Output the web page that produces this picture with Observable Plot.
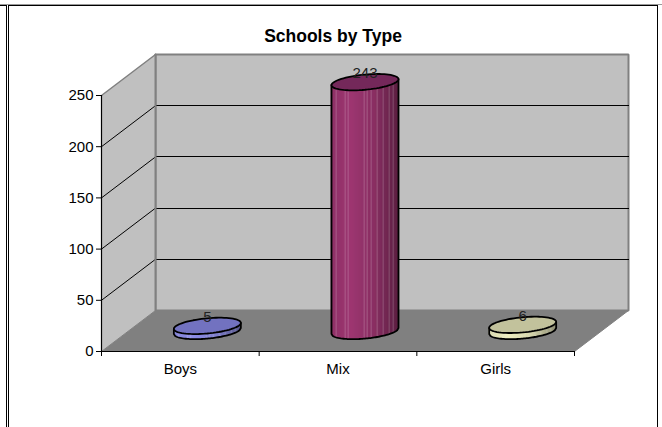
<!DOCTYPE html>
<html>
<head>
<meta charset="utf-8">
<script src="https://cdn.jsdelivr.net/npm/d3@7"></script>
<script src="https://cdn.jsdelivr.net/npm/@observablehq/plot@0.6"></script>
<style>
html,body{margin:0;padding:0;background:#fff;overflow:hidden}
#wrap{position:relative;width:662px;height:427px}
#wrap svg{position:absolute;left:0;top:0;display:block}
.f{position:absolute;background:#000}
</style>
</head>
<body>
<div id="wrap">
  <div class="f" style="left:0;top:4px;width:662px;height:1px;background:#999"></div>
  <div class="f" style="left:0;top:5px;width:6px;height:1px"></div>
  <div class="f" style="left:6px;top:5px;width:1px;height:422px"></div>
  <div class="f" style="left:8px;top:5px;width:650px;height:1px"></div>
  <div class="f" style="left:8px;top:5px;width:1px;height:422px"></div>
  <div class="f" style="left:657px;top:5px;width:1px;height:422px"></div>
</div>
<script>
const title = "Schools by Type";
const categories = ["Boys", "Mix", "Girls"];
const values = [5, 243, 6];
const sideColors = ["#8a8ae6", "#96346c", "#eeeebe"];
const topColors = ["#7272c0", "#74285a", "#c2c29c"];
const yTicks = [0, 50, 100, 150, 200, 250];
const xTicks = [0, 1, 2, 3];

// chart-space constants of the pseudo 3D box
const W = 662, H = 427, mL = 101, mR = 88, mT = 95, mB = 76;
const unitX = (W - mL - mR) / 3, unitY = (H - mT - mB) / 250;
const depthX = 54 / unitX, depthY = 41 / unitY;
const P = (x, y, d = 0) => ({x: x + d * depthX, y: y + d * depthY});

const poly = (pts, fill, stroke, strokeWidth = 1) =>
  Plot.line([...pts, pts[0]], {x: "x", y: "y", fill, stroke, strokeWidth, curve: "linear", strokeLinejoin: "miter"});
const seg = (a, b, stroke, strokeWidth = 1, shapeRendering = "auto") =>
  Plot.line([a, b], {x: "x", y: "y", stroke, strokeWidth, shapeRendering});

const GRAY = "#808080", WALL = "#c0c0c0";
const marks = [
  // back wall, side wall, floor
  poly([P(0, 0, 1), P(3, 0, 1), P(3, 250, 1), P(0, 250, 1)], WALL, GRAY, 2),
  poly([P(0, 0), P(0, 0, 1), P(0, 250, 1), P(0, 250)], WALL, "none"),
  poly([P(0, 0), P(3, 0), P(3, 0, 1), P(0, 0, 1)], GRAY, "none"),
  seg(P(0, 250), P(0, 250, 1), GRAY, 1.5),
  seg(P(3, 0), P(3, 0, 1), GRAY, 1),
  seg(P(0, 0), P(0, 0, 1), GRAY, 1)
];
// gridlines on both walls
for (const t of yTicks.slice(1, -1)) {
  marks.push(seg(P(0, t), P(0, t, 1), "#000"));
  marks.push(seg(P(0, t, 1), P(3, t, 1), "#000", 1, "crispEdges"));
}
marks.push(seg(P(0, 0, 1), P(0, 250, 1), GRAY, 2));

// cylinders
const a = 33.5 / unitX, b = 7.6 / unitY, shear = 3 / unitY;
const stripes = [-0.85, -0.56, -0.47, 0, 0.1, 0.22, 0.4, 0.57, 0.75, 0.87];
categories.forEach((name, i) => {
  const v = values[i];
  const c = P(i + 0.5, 0, 0.5);
  const ell = (cy, n = 72) => d3.range(n).map(k => {
    const t = 2 * Math.PI * k / n;
    return {x: c.x + a * Math.cos(t), y: cy + b * Math.sin(t) + shear * Math.cos(t)};
  });
  const slices = [];
  const N = 67;
  const shade = d3.scaleLinear().domain([-1, -0.4, 0.3, 1]).range([0.96, 1.05, 0.92, 0.62]);
  for (let k = 0; k < N; k++) {
    const u0 = -1 + 2 * k / N, u1 = -1 + 2 * (k + 1) / N, um = (u0 + u1) / 2;
    const base = d3.color(sideColors[i]);
    let s = shade(um);
    const striped = stripes.some(q => Math.abs(q - um) < 1 / N);
    const col = d3.rgb(Math.min(255, base.r * s), Math.min(255, base.g * s), Math.min(255, base.b * s));
    const fill = (striped ? d3.interpolateRgb(col, "#fff")(0.2) : col).toString();
    for (const u of [u0, u1]) {
      const front = -b * Math.sqrt(Math.max(0, 1 - u * u)) + shear * u;
      slices.push({x: c.x + a * u, y1: c.y + front, y2: c.y + v + front, z: k, fill});
    }
  }
  marks.push(Plot.areaY(slices, {x: "x", y1: "y1", y2: "y2", z: "z", fill: "fill", stroke: "fill", strokeWidth: 0.4}));
  // outline of the side: left edge, bottom arc, right edge
  const outline = [];
  for (let u = -1; u <= 1.0001; u += 0.04) {
    const uu = Math.min(1, u);
    outline.push({x: c.x + a * uu, y: c.y - b * Math.sqrt(Math.max(0, 1 - uu * uu)) + shear * uu});
  }
  const outl = [{x: c.x - a, y: c.y + v - shear}, ...outline, {x: c.x + a, y: c.y + v + shear}];
  marks.push(Plot.line(outl, {x: "x", y: "y", stroke: "#000", strokeWidth: 1.8}));
  marks.push(poly(ell(c.y + v), topColors[i], "#000", 1.8));
});

// value labels
marks.push(Plot.text(values, {
  x: (d, i) => P(i + 0.5, 0, 0.5).x,
  y: (d) => P(0, d, 0.5).y,
  text: d => String(d),
  dy: -9, fontSize: 15, fill: "#222", textAnchor: "middle", lineAnchor: "middle"
}));

// axes
marks.push(
  Plot.ruleY([0], {x1: 0, x2: 3, stroke: "#000", strokeWidth: 1.2}),
  Plot.ruleX([0], {y1: 0, y2: 250, stroke: "#000", strokeWidth: 1.2}),
  Plot.axisY({ticks: yTicks, tickSize: 5, tickPadding: 3, label: null, fontSize: 15, stroke: "#000", color: "#000"}),
  Plot.axisX({ticks: xTicks, tickSize: 5, tickFormat: () => "", label: null, stroke: "#000"}),
  Plot.text(categories, {x: (d, i) => i + 0.5, y: 0, text: d => d, dy: 18, fontSize: 15, fill: "#000"}),
  Plot.text([title], {frameAnchor: "top", dx: -5, dy: -66, fontSize: 17.5, fontWeight: "bold", fill: "#000"})
);

const chart = Plot.plot({
  width: W, height: H,
  marginLeft: mL, marginRight: mR, marginTop: mT, marginBottom: mB,
  style: {background: "transparent", fontFamily: "'Liberation Sans', Arial, sans-serif", overflow: "visible"},
  x: {domain: [0, 3], axis: null},
  y: {domain: [0, 250], axis: null},
  marks
});
document.getElementById("wrap").appendChild(chart);
</script>
</body>
</html>
